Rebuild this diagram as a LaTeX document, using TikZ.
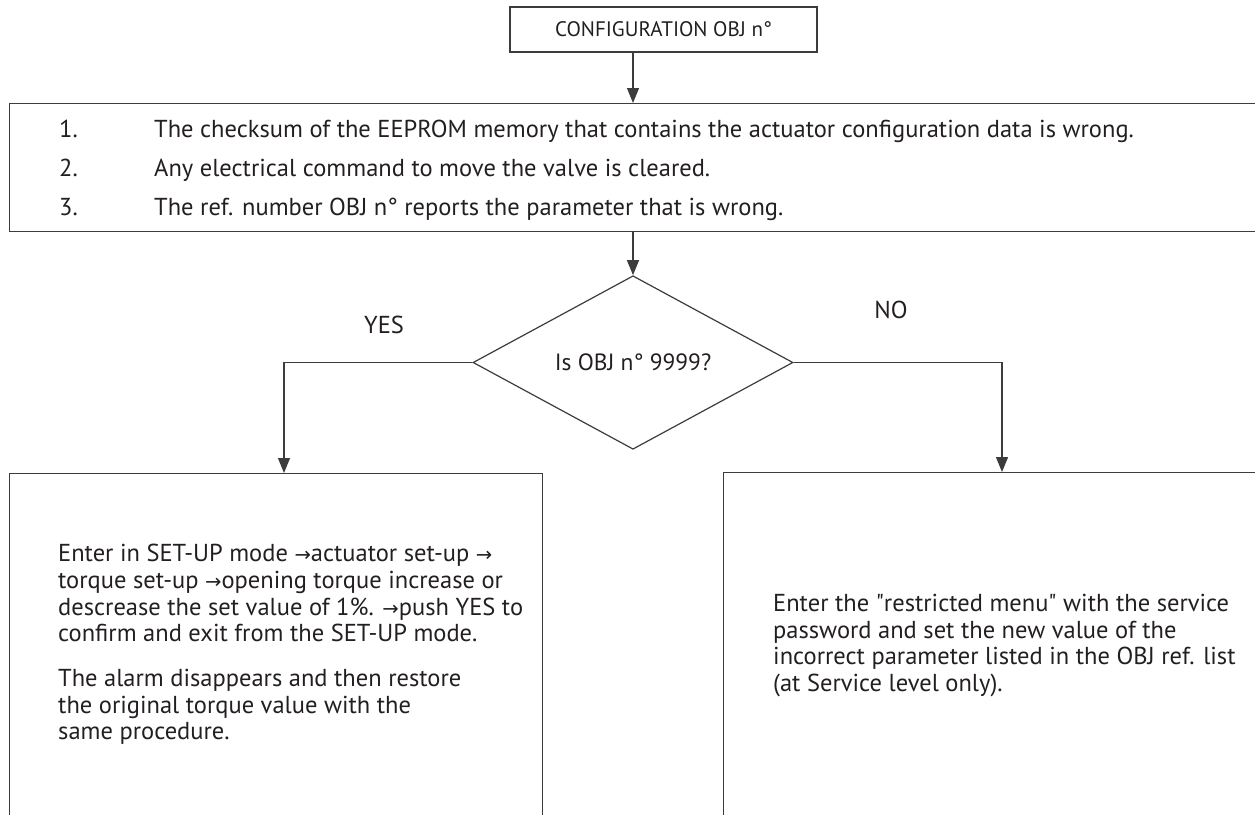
\documentclass[tikz,border=0pt]{standalone}
\usepackage{fontspec}
\usepackage{graphicx}
\setmainfont{PT Sans}
\newfontfamily\arrfont{DejaVu Sans}
\usetikzlibrary{shapes.geometric,arrows.meta}
\definecolor{ln}{HTML}{3C3C3C}
\definecolor{tx}{HTML}{231F20}
\newcommand{\rarr}{{\arrfont\scalebox{0.8}{→}}}
\tikzset{
  box/.style={draw=ln, line width=1.2pt, inner sep=0pt, fill=none},
  lbl/.style={text=tx, font=\fontsize{24.5}{26.7}\selectfont, inner sep=0pt},
  para/.style={lbl, align=left, anchor=north west},
  conn/.style={draw=ln, line width=1.2pt, -{Triangle[length=15pt,width=12pt]}},
}
\begin{document}
\begin{tikzpicture}[x=1pt,y=-1pt]
\useasboundingbox (0,0) rectangle (1255,814);
% top box
\node[box, lbl, font=\fontsize{21}{24}\selectfont, minimum width=307pt, minimum height=45pt] (top) at (663.5,29.5) {CONFIGURATION OBJ n°};
% list box (open to the right)
\node[box, anchor=north west, minimum width=1270pt, minimum height=128pt] (list) at (9,103) {};
\node[lbl, anchor=base west] (n1) at (59,137) {1.};
\node[lbl, anchor=base west] (t1) at (154,137) {The checksum of the EEPROM memory that contains the actuator configuration data is wrong.};
\node[lbl, anchor=base west] (n2) at (59,176) {2.};
\node[lbl, anchor=base west] (t2) at (154,176) {Any electrical command to move the valve is cleared.};
\node[lbl, anchor=base west] (n3) at (59,215) {3.};
\node[lbl, anchor=base west] (t3) at (154,215) {The ref. number OBJ n° reports the parameter that is wrong.};
% decision
\node[box, lbl, font=\fontsize{23.5}{26}\selectfont, diamond, minimum width=320pt, minimum height=141pt] (dia) at (633,362.5) {Is OBJ n° 9999?};
\node[lbl] (yes) at (384,325) {YES};
\node[lbl] (no) at (891,310) {NO};
% result boxes
\node[box, anchor=north west, minimum width=533pt, minimum height=400pt] (lbox) at (9,473) {};
\node[box, anchor=north west, minimum width=600pt, minimum height=400pt] (rbox) at (723,472) {};
\node[para] (ltxt1) at (58,544) {Enter in SET-UP mode \rarr actuator set-up \rarr\\torque set-up \rarr opening torque increase or\\descrease the set value of 1\%. \rarr push YES to\\confirm and exit from the SET-UP mode.};
\node[para] (ltxt2) at (58,669) {The alarm disappears and then restore\\the original torque value with the\\same procedure.};
\node[para] (rtxt) at (773,594) {Enter the \textquotedbl restricted menu\textquotedbl{} with the service\\password and set the new value of the\\incorrect parameter listed in the OBJ ref. list\\(at Service level only).};
% connectors
\coordinate (lin) at (284,473);
\coordinate (rin) at (1002,472);
\draw[conn] (top.south -| dia.north) -- (dia.north |- list.north);
\draw[conn] (dia.north |- list.south) -- (dia.north);
\draw[conn] (dia.west) -| (lin);
\draw[conn] (dia.east) -| (rin);
\end{tikzpicture}
\end{document}
